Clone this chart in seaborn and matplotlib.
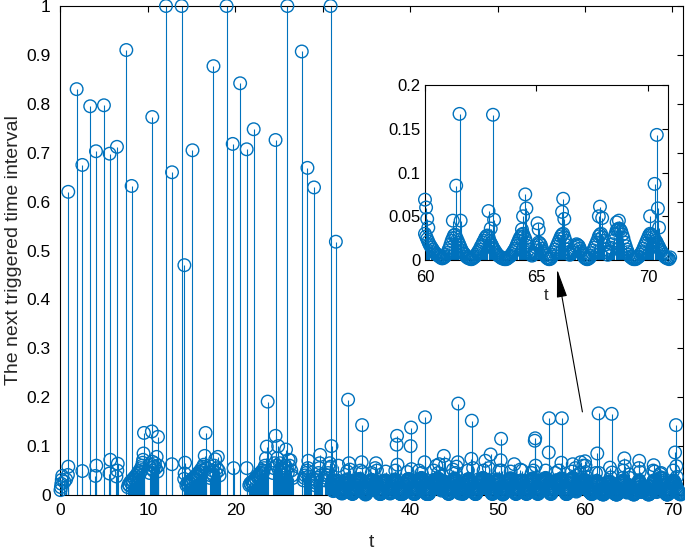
import numpy as np
import pandas as pd
import seaborn as sns
import matplotlib.pyplot as plt
from matplotlib.ticker import FormatStrFormatter

# large triggered intervals in the first phase
spike_t = [0.89, 1.85, 2.5, 3.4, 4.06, 4.97, 5.62, 6.46, 7.53, 8.14, 10.5, 12.07, 12.76,
           13.86, 14.17, 15.1, 17.5, 19.0, 19.7, 20.55, 21.3, 22.1, 24.6, 25.95, 27.6,
           28.25, 29.0, 30.9, 31.5]
spike_y = [0.62, 0.83, 0.675, 0.795, 0.703, 0.797, 0.698, 0.712, 0.91, 0.632, 0.773, 1.0,
           0.66, 1.0, 0.47, 0.705, 0.877, 1.0, 0.718, 0.842, 0.707, 0.748, 0.726, 1.0,
           0.907, 0.669, 0.629, 1.0, 0.518]

# small intervals in the first phase
early_t = [0.0, 0.05, 0.1, 0.15, 0.2, 0.45, 0.65, 0.85, 0.9, 2.5, 4.0, 4.1, 5.6, 5.7,
           6.4, 6.5, 6.55,
           7.7, 7.8, 7.9, 8.0, 8.1, 8.2, 8.3, 8.4, 8.5, 8.6, 8.7, 8.8, 8.9, 9.0, 9.1, 9.2,
           9.3, 9.35, 9.4, 9.45, 9.5, 9.55,
           10.2, 10.3, 10.4, 10.45, 10.5, 10.6, 10.7, 10.8, 10.9, 11.0, 11.1, 11.15, 11.2,
           12.75, 14.15, 14.2, 14.25,
           14.4, 14.5, 14.6, 14.7, 14.8, 14.9, 15.0, 15.1, 15.2, 15.3, 15.4, 15.5, 15.6,
           15.7, 15.8, 15.9, 16.0, 16.1, 16.2, 16.3, 16.4, 16.5, 16.6, 16.7,
           17.1, 17.2, 17.3, 17.4, 17.5, 17.6, 17.7, 17.8, 17.9, 18.0, 18.1, 18.2,
           19.8, 21.3,
           21.6, 21.7, 21.8, 21.9, 22.0, 22.1, 22.2, 22.3, 22.4, 22.5, 22.6, 22.7, 22.8,
           22.9, 23.0, 23.1, 23.2, 23.3, 23.4, 23.5, 23.6, 23.7,
           24.3, 24.4, 24.5, 24.6, 24.7, 24.8, 24.9, 25.0, 25.1, 25.2, 25.3, 25.5, 25.6,
           25.7, 25.8, 25.9, 26.0, 26.1, 26.2, 26.3, 26.4, 26.5, 26.6,
           27.8, 27.9, 28.0, 28.1, 28.2, 28.3, 28.35, 28.4, 28.5, 28.6,
           29.1, 29.2, 29.3, 29.4, 29.5, 29.6, 29.65, 29.7, 29.8, 29.9,
           30.3, 30.4, 30.5, 30.6, 30.7, 30.8, 30.9, 31.0]
early_y = [0.010, 0.016, 0.023, 0.031, 0.039, 0.027, 0.032, 0.041, 0.058, 0.049, 0.039,
           0.060, 0.044, 0.072, 0.038, 0.050, 0.064,
           0.016, 0.022, 0.019, 0.027, 0.024, 0.031, 0.027, 0.035, 0.031, 0.039, 0.035,
           0.044, 0.040, 0.049, 0.045, 0.055, 0.051, 0.060, 0.066, 0.072, 0.085, 0.127,
           0.045, 0.055, 0.062, 0.130, 0.068, 0.050, 0.058, 0.065, 0.055, 0.078, 0.048,
           0.119, 0.060,
           0.063, 0.033, 0.044, 0.066,
           0.020, 0.024, 0.021, 0.027, 0.024, 0.030, 0.027, 0.033, 0.030, 0.036, 0.033,
           0.040, 0.037, 0.044, 0.041, 0.048, 0.045, 0.053, 0.050, 0.058, 0.062, 0.080,
           0.127, 0.055,
           0.035, 0.040, 0.045, 0.050, 0.040, 0.060, 0.073, 0.045, 0.055, 0.078, 0.050,
           0.040,
           0.055, 0.055,
           0.020, 0.024, 0.021, 0.027, 0.024, 0.030, 0.027, 0.034, 0.031, 0.038, 0.035,
           0.042, 0.039, 0.046, 0.043, 0.050, 0.047, 0.055, 0.060, 0.075, 0.099, 0.191,
           0.045, 0.055, 0.065, 0.121, 0.060, 0.075, 0.100, 0.050, 0.065, 0.045, 0.055,
           0.040, 0.050, 0.060, 0.093, 0.055, 0.045, 0.072, 0.060, 0.071, 0.050, 0.040,
           0.035,
           0.030, 0.035, 0.040, 0.045, 0.050, 0.055, 0.070, 0.038, 0.032, 0.028,
           0.020, 0.025, 0.030, 0.035, 0.045, 0.055, 0.065, 0.082, 0.040, 0.030,
           0.030, 0.035, 0.040, 0.045, 0.055, 0.065, 0.058, 0.100]

# isolated larger intervals in the second phase
peak_t = [31.8, 32.9, 33.0, 34.45, 34.5, 34.55, 36.0, 36.1, 38.45, 38.5, 38.55, 40.05,
          40.1, 40.15, 41.65, 41.7, 43.0, 43.3, 43.85, 44.0, 45.3, 45.45, 45.5, 47.0,
          47.05, 48.6, 49.2, 50.35, 50.4, 50.45, 51.9, 52.8, 54.25, 54.3, 54.35, 55.85,
          55.9, 57.3, 57.35, 58.6, 58.9, 59.5, 59.8,
          60.0, 60.05, 60.1, 60.15, 61.25, 61.4, 61.55, 61.6, 62.85, 62.95, 63.05, 63.1,
          64.35, 64.4, 64.5, 64.55, 65.05, 65.1, 66.15, 66.2, 66.25, 67.8, 67.85, 67.95,
          68.6, 68.7, 70.1, 70.3, 70.4, 70.45, 70.5, 71.0]
peak_y = [0.060, 0.195, 0.065, 0.067, 0.143, 0.047, 0.055, 0.065, 0.103, 0.121, 0.062,
          0.100, 0.138, 0.053, 0.067, 0.159, 0.060, 0.063, 0.080, 0.062, 0.058, 0.067,
          0.187, 0.074, 0.152, 0.070, 0.083, 0.071, 0.115, 0.050, 0.063, 0.050, 0.111,
          0.116, 0.060, 0.087, 0.157, 0.066, 0.157, 0.063, 0.055, 0.067, 0.060,
          0.069, 0.060, 0.047, 0.037, 0.045, 0.085, 0.167, 0.045, 0.056, 0.036, 0.166,
          0.046, 0.035, 0.050, 0.075, 0.059, 0.042, 0.035, 0.055, 0.070, 0.047, 0.050,
          0.061, 0.048, 0.043, 0.045, 0.050, 0.087, 0.143, 0.059, 0.037, 0.003]

# mid-level intervals sitting on top of the dense band
mid_t = [32.8, 33.1, 34.3, 35.6, 36.2, 37.2, 38.3, 39.7, 41.0, 41.3, 42.7, 43.2, 44.9,
         45.2, 46.6, 47.2, 48.4, 49.0, 50.2, 51.5, 52.6, 53.9, 54.1, 55.5, 56.6, 57.0,
         58.5, 59.4]
mid_y = [0.048, 0.052, 0.050, 0.045, 0.050, 0.048, 0.050, 0.047, 0.050, 0.045, 0.050,
         0.045, 0.052, 0.045, 0.050, 0.055, 0.050, 0.055, 0.050, 0.048, 0.052, 0.045,
         0.050, 0.050, 0.045, 0.050, 0.048, 0.045]

# dense small intervals in the second phase (x 1e-3), one row per unit of t
# band_y at t = 31.0, 31.1, ... ; band_mid_y at t = 31.05, 31.15, ...
band_start = 31.0
band_y = [
    20, 14, 8, 12, 18, 24, 30, 26, 20, 14,
    9, 5, 3, 5, 10, 16, 22, 28, 32, 26,
    20, 14, 8, 4, 2, 4, 8, 13, 19, 24,
    28, 30, 33, 30, 24, 18, 12, 7, 3, 1,
    3, 7, 12, 18, 24, 28, 31, 27, 20, 14,
    22, 28, 20, 12, 6, 3, 2, 5, 10, 16,
    22, 27, 30, 25, 18, 11, 6, 3, 6, 11,
    17, 23, 28, 32, 27, 20, 13, 8, 4, 2,
    3, 2, 4, 8, 14, 20, 26, 30, 33, 31,
    25, 18, 11, 6, 3, 2, 5, 10, 16, 22,
    27, 30, 33, 35, 31, 24, 16, 10, 5, 2,
    3, 2, 5, 10, 16, 22, 27, 31, 28, 24,
    28, 31, 34, 29, 22, 15, 9, 14, 22, 28,
    24, 16, 9, 4, 2, 4, 9, 15, 21, 27,
    31, 34, 30, 24, 17, 11, 6, 3, 5, 10,
    2, 4, 9, 15, 21, 27, 31, 33, 28, 21,
    26, 18, 11, 6, 3, 2, 5, 10, 16, 22,
    27, 31, 33, 35, 30, 22, 15, 20, 27, 31,
    24, 16, 9, 4, 2, 5, 10, 16, 22, 28,
    32, 27, 20, 13, 7, 3, 1, 3, 7, 13,
    19, 24, 28, 31, 33, 34, 28, 21, 14, 8,
    4, 2, 5, 10, 16, 22, 27, 30, 26, 20,
    14, 9, 5, 2, 4, 9, 15, 21, 27, 31,
    34, 29, 22, 15, 9, 5, 2, 4, 9, 15,
    21, 25, 28, 31, 33, 35, 30, 22, 14, 8,
    4, 2, 5, 10, 16, 22, 27, 30, 26, 19,
    23, 28, 31, 34, 28, 20, 13, 7, 3, 2,
    5, 10, 16, 23, 29, 33, 35, 27, 19, 12,
    7, 12, 18, 24, 28, 24, 20, 24, 28, 31,
    30, 24, 18, 14, 10, 7, 5, 3, 2, 4,
    8, 14, 22, 28, 26, 20, 14, 9, 6, 3,
    2, 1, 3, 6, 10, 15, 20, 25, 28, 22,
    17, 12, 8, 5, 3, 2, 1, 2, 4, 7,
    11, 16, 22, 27, 30, 24, 16, 9, 5, 8,
    14, 20, 17, 10, 5, 2, 1, 4, 9, 15,
    21, 27, 30, 22, 12, 6, 9, 14, 18, 16,
    10, 5, 2, 1, 3, 8, 14, 20, 27, 30,
    22, 12, 6, 10, 18, 26, 34, 36, 33, 25,
    16, 9, 4, 2, 1, 2, 4, 8, 13, 19,
    25, 30, 28, 24, 20, 15, 10, 6, 3, 2,
]
band_mid_y = [
    17, 10, 9, 15, 21, 27, 29, 23, 17, 11,
    7, 4, 4, 7, 13, 19, 25, 31, 30, 23,
    17, 11, 6, 3, 3, 6, 10, 16, 21, 26,
    29, 32, 32, 27, 21, 15, 9, 5, 2, 2,
    5, 9, 15, 21, 26, 30, 29, 23, 17, 18,
    25, 24, 16, 9, 4, 2, 3, 7, 13, 19,
    25, 29, 28, 21, 14, 8, 4, 4, 8, 14,
    20, 26, 30, 30, 23, 16, 10, 6, 3, 2,
    2, 3, 6, 11, 17, 23, 28, 32, 32, 28,
    21, 14, 8, 4, 2, 3, 7, 13, 19, 25,
    29, 32, 34, 33, 27, 20, 13, 7, 3, 2,
    2, 3, 7, 13, 19, 25, 29, 30, 26, 26,
    30, 33, 32, 25, 18, 12, 11, 18, 25, 26,
    20, 12, 6, 3, 3, 6, 12, 18, 24, 29,
    33, 32, 27, 20, 14, 8, 4, 4, 7, 5,
    3, 6, 12, 18, 24, 29, 32, 31, 24, 23,
    22, 14, 8, 4, 2, 3, 7, 13, 19, 25,
    29, 32, 34, 33, 26, 18, 17, 24, 29, 28,
    20, 12, 6, 3, 3, 7, 13, 19, 25, 30,
    30, 23, 16, 10, 5, 2, 2, 5, 10, 16,
    22, 26, 30, 32, 34, 31, 24, 17, 11, 6,
    3, 3, 7, 13, 19, 25, 29, 28, 23, 17,
    11, 7, 3, 3, 6, 12, 18, 24, 29, 33,
    32, 25, 18, 12, 7, 3, 3, 6, 12, 18,
    23, 27, 30, 32, 34, 33, 26, 18, 11, 6,
    3, 3, 7, 13, 19, 25, 29, 28, 22, 21,
    26, 30, 33, 31, 24, 16, 10, 5, 2, 3,
    7, 13, 20, 26, 31, 34, 31, 23, 15, 9,
    9, 15, 21, 26, 26, 22, 22, 26, 30, 31,
    27, 21, 16, 12, 8, 6, 4, 2, 3, 6,
    11, 18, 25, 29, 23, 17, 11, 7, 4, 2,
    1, 2, 4, 8, 12, 17, 22, 27, 26, 19,
    14, 10, 6, 4, 2, 1, 1, 3, 5, 9,
    13, 19, 25, 29, 27, 20, 12, 7, 6, 11,
    17, 19, 13, 7, 3, 1, 2, 6, 12, 18,
    24, 29, 26, 17, 9, 7, 11, 16, 17, 13,
    7, 3, 1, 2, 5, 11, 17, 23, 29, 26,
    17, 9, 8, 14, 22, 30, 35, 35, 29, 20,
    12, 6, 3, 1, 1, 3, 6, 10, 16, 22,
    28, 29, 26, 22, 17, 12, 8, 4, 2, 1,
]

band_t = np.round(band_start + 0.1 * np.arange(len(band_y)), 2)
band_mid_t = np.round(band_t + 0.05, 2)
df = pd.concat([
    pd.DataFrame({"t": spike_t, "y": spike_y}),
    pd.DataFrame({"t": early_t, "y": early_y}),
    pd.DataFrame({"t": band_t, "y": np.array(band_y) / 1000}),
    pd.DataFrame({"t": band_mid_t, "y": np.array(band_mid_y) / 1000}),
    pd.DataFrame({"t": mid_t, "y": mid_y}),
    pd.DataFrame({"t": peak_t, "y": peak_y}),
], ignore_index=True)

blue = "#0072BD"
sns.set_style("white")
plt.rcParams["font.family"] = ["Liberation Sans", "DejaVu Sans"]


def stem_plot(axis, data):
    axis.vlines(data["t"], 0, data["y"], color=blue, lw=0.8, zorder=2)
    sns.scatterplot(data=data, x="t", y="y", ax=axis, marker="o", s=82,
                    facecolors="none", edgecolor=blue, linewidth=1.0,
                    clip_on=False, zorder=3, legend=False)


def style_axes(axis, size, xpad, ypad):
    axis.tick_params(direction="in", length=4, width=0.8, top=True, right=True,
                     labelsize=size, colors="black")
    axis.tick_params(axis="x", pad=xpad)
    axis.tick_params(axis="y", pad=ypad)
    for sp in axis.spines.values():
        sp.set_color("black")
        sp.set_linewidth(0.8)
    axis.yaxis.set_major_formatter(FormatStrFormatter("%g"))
    axis.xaxis.set_major_formatter(FormatStrFormatter("%g"))


fig = plt.figure(figsize=(6.85, 5.51), dpi=100)
ax = fig.add_axes([0.0883, 0.1016, 0.9087, 0.8875])
stem_plot(ax, df)
ax.set_xlim(0, 71.2)
ax.set_ylim(0, 1)
ax.set_xticks(np.arange(0, 71, 10))
ax.set_yticks(np.arange(0, 1.01, 0.1))
style_axes(ax, 12.5, 6, 7)
ax.set_xlabel("t", fontsize=14, labelpad=11)
ax.set_ylabel("The next triggered time interval", fontsize=14, labelpad=3)

ax.annotate("", xy=(56.8, 0.462), xytext=(59.7, 0.17),
            arrowprops=dict(arrowstyle="-|>,head_length=1.1,head_width=0.2",
                            color="black", lw=0.8, mutation_scale=16,
                            shrinkA=0, shrinkB=0))

inset = fig.add_axes([0.6204, 0.5281, 0.3547, 0.3176])
inset.set_facecolor("white")
stem_plot(inset, df[df["t"] >= 60])
inset.set_xlim(60, 70.9)
inset.set_ylim(0, 0.2)
inset.set_xticks([60, 65, 70])
inset.set_yticks([0, 0.05, 0.1, 0.15, 0.2])
style_axes(inset, 12, 7, 3)
inset.set_xlabel("t", fontsize=12, labelpad=2)
inset.set_ylabel("")

fig.savefig("out.png", dpi=100)
